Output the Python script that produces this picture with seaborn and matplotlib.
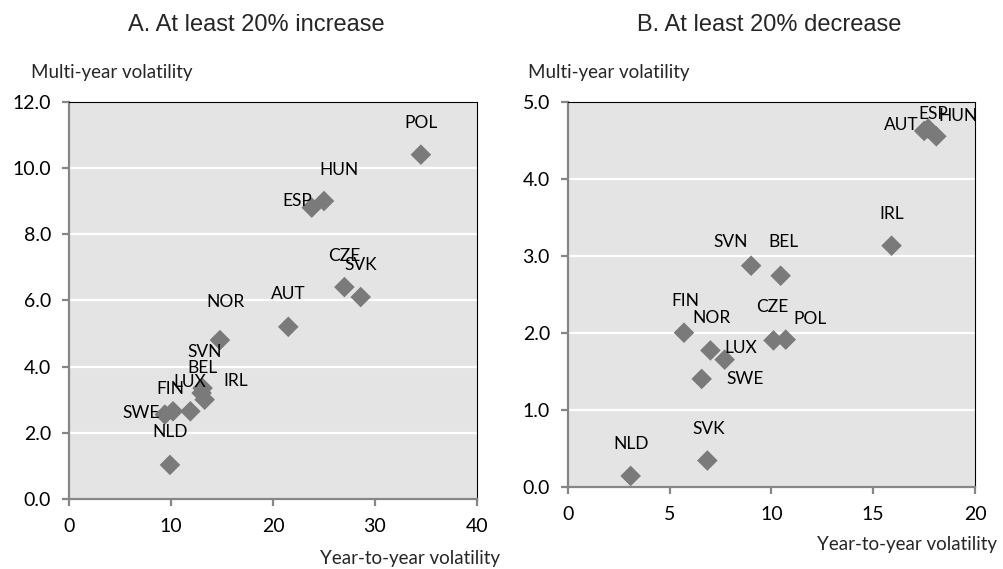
import matplotlib
matplotlib.use("Agg")
import matplotlib.pyplot as plt
import seaborn as sns
import pandas as pd

# Panel A: regions with at least a 20% increase
a_countries = ["POL", "HUN", "ESP", "CZE", "SVK", "AUT", "NOR",
               "SVN", "BEL", "IRL", "LUX", "FIN", "SWE", "NLD"]
a_year_to_year = [34.5, 25.0, 23.8, 27.0, 28.6, 21.5, 14.8,
                  13.1, 13.0, 13.3, 11.9, 10.2, 9.4, 9.9]
a_multi_year = [10.4, 9.0, 8.8, 6.4, 6.1, 5.2, 4.8,
                3.35, 3.2, 3.0, 2.65, 2.65, 2.55, 1.03]

# Panel B: regions with at least a 20% decrease
b_countries = ["AUT", "ESP", "HUN", "IRL", "SVN", "BEL", "FIN",
               "NOR", "LUX", "SWE", "CZE", "POL", "SVK", "NLD"]
b_year_to_year = [17.5, 17.7, 18.1, 15.9, 9.0, 10.45, 5.7,
                  7.0, 7.7, 6.57, 10.1, 10.7, 6.85, 3.08]
b_multi_year = [4.62, 4.65, 4.55, 3.13, 2.87, 2.74, 2.0,
                1.77, 1.65, 1.40, 1.90, 1.91, 0.34, 0.14]

# label placement (pixel offsets from each marker)
a_label_offsets = {
    "POL": (0, 32), "HUN": (15, 31), "ESP": (-15, 7), "CZE": (0, 31),
    "SVK": (0, 32), "AUT": (0, 33), "NOR": (6, 38), "SVN": (2, 36),
    "BEL": (1, 25), "IRL": (31, 19), "LUX": (-1, 29), "FIN": (-3, 22),
    "SWE": (-24, 2), "NLD": (0, 33),
}
b_label_offsets = {
    "AUT": (-23, 6), "ESP": (5, 15), "HUN": (22, 20), "IRL": (0, 32),
    "SVN": (-20, 24), "BEL": (3, 34), "FIN": (1, 32), "NOR": (1, 32),
    "LUX": (16, 12), "SWE": (43, 0), "CZE": (-1, 33), "POL": (24, 21),
    "SVK": (1, 32), "NLD": (0, 32),
}

sns.set_style("white")
plt.rcParams["font.family"] = ["Lato", "DejaVu Sans"]

MARKER = "#7a7a7a"
PANEL_BG = "#e4e4e4"
AXIS_GREY = "#868686"

fig = plt.figure(figsize=(10.04, 5.69), dpi=100)
ax_a = fig.add_axes([0.0687, 0.1230, 0.4064, 0.6983])
ax_b = fig.add_axes([0.5657, 0.1446, 0.4054, 0.6767])


def draw_panel(ax, countries, xs, ys, offsets, xticks, yticks):
    df = pd.DataFrame({"country": countries, "x": xs, "y": ys})
    ax.set_facecolor(PANEL_BG)
    ax.set_axisbelow(True)
    ax.yaxis.grid(True, color="white", linewidth=1.6)
    ax.xaxis.grid(False)
    sns.scatterplot(data=df, x="x", y="y", ax=ax, marker="D", s=110,
                    color=MARKER, edgecolor="none", zorder=3, legend=False)
    for _, row in df.iterrows():
        dx, dy = offsets[row["country"]]
        ax.annotate(row["country"], (row["x"], row["y"]),
                    xytext=(dx, dy), textcoords="offset pixels",
                    ha="center", va="center", fontsize=12.5, color="black",
                    zorder=4)
    ax.set_xlim(xticks[0], xticks[-1])
    ax.set_ylim(yticks[0], yticks[-1])
    ax.set_xticks(xticks)
    ax.set_yticks(yticks)
    ax.set_yticklabels([f"{v:.1f}" for v in yticks])
    ax.set_xlabel("")
    ax.set_ylabel("")
    for side in ("left", "bottom"):
        ax.spines[side].set_color(AXIS_GREY)
        ax.spines[side].set_linewidth(1.6)
    for side in ("top", "right"):
        ax.spines[side].set_color("black")
        ax.spines[side].set_linewidth(0.8)
    ax.tick_params(axis="both", which="major", direction="out", length=5,
                   width=1.6, color=AXIS_GREY, labelsize=14,
                   labelcolor="black")
    ax.tick_params(axis="x", pad=9)
    ax.tick_params(axis="y", pad=8)
    ax.tick_params(top=False, right=False, bottom=True, left=True)


draw_panel(ax_a, a_countries, a_year_to_year, a_multi_year, a_label_offsets,
           [0, 10, 20, 30, 40], [0, 2, 4, 6, 8, 10, 12])
draw_panel(ax_b, b_countries, b_year_to_year, b_multi_year, b_label_offsets,
           [0, 5, 10, 15, 20], [0, 1, 2, 3, 4, 5])

W, H = 1004, 569
title_font = dict(family=["Liberation Sans", "DejaVu Sans"], fontsize=17)
fig.text(256 / W, 1 - 25 / H, "A. At least 20% increase",
         ha="center", va="center", **title_font)
fig.text(769 / W, 1 - 25 / H, "B. At least 20% decrease",
         ha="center", va="center", **title_font)

label_font = dict(fontsize=13.5)
fig.text(31 / W, 1 - 64 / H, "Multi-year volatility",
         ha="left", va="top", **label_font)
fig.text(528 / W, 1 - 64 / H, "Multi-year volatility",
         ha="left", va="top", **label_font)
fig.text(320 / W, 1 - 550 / H, "Year-to-year volatility",
         ha="left", va="top", **label_font)
fig.text(817 / W, 1 - 536 / H, "Year-to-year volatility",
         ha="left", va="top", **label_font)

fig.savefig("out.png", dpi=100)
